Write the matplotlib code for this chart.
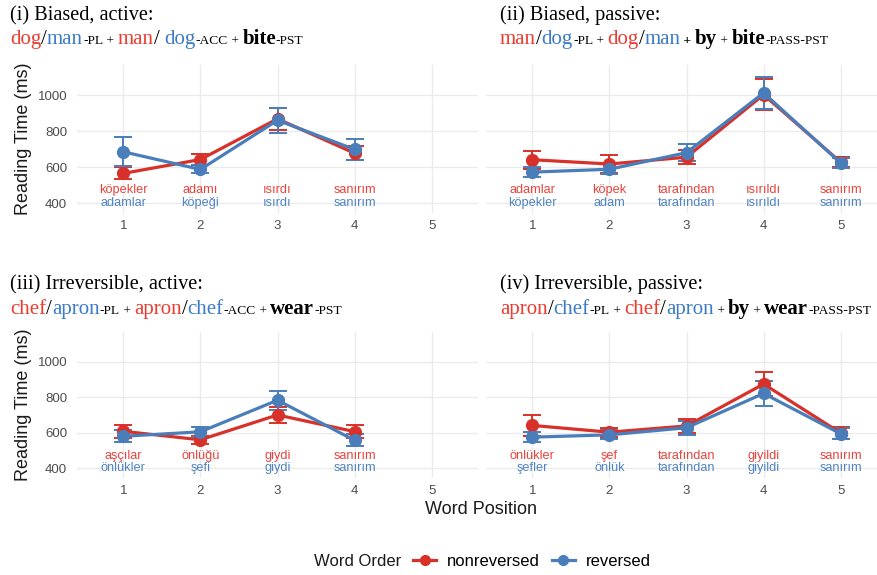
import matplotlib
matplotlib.use("Agg")
import matplotlib.pyplot as plt
from matplotlib.lines import Line2D

W, H = 877, 575

RED = "#D7312A"
BLUE = "#4A7EBB"
RED_TXT = "#E8433C"
BLUE_TXT = "#4F83C4"
T_RED = "#EE3B2F"
T_BLUE = "#3C7BC8"

# reading times (ms) and error bar half-widths per panel
pos_active = [1, 2, 3, 4]
pos_passive = [1, 2, 3, 4, 5]

bias_act_nonrev = [565, 642, 868, 677]
bias_act_nonrev_err = [33, 33, 62, 38]
bias_act_rev = [685, 587, 860, 698]
bias_act_rev_err = [80, 22, 68, 58]

bias_pas_nonrev = [641, 617, 655, 1002, 627]
bias_pas_nonrev_err = [49, 48, 40, 85, 28]
bias_pas_rev = [572, 588, 680, 1012, 622]
bias_pas_rev_err = [27, 29, 46, 87, 28]

irr_act_nonrev = [608, 560, 700, 606]
irr_act_nonrev_err = [36, 24, 45, 37]
irr_act_rev = [580, 605, 783, 557]
irr_act_rev_err = [35, 27, 53, 33]

irr_pas_nonrev = [641, 603, 638, 874, 598]
irr_pas_nonrev_err = [60, 25, 37, 67, 32]
irr_pas_rev = [575, 588, 628, 821, 594]
irr_pas_rev_err = [28, 25, 40, 70, 32]

# Turkish words under each position
bias_act_words_nonrev = ["köpekler", "adamı", "ısırdı", "sanırım"]
bias_act_words_rev = ["adamlar", "köpeği", "ısırdı", "sanırım"]
bias_pas_words_nonrev = ["adamlar", "köpek", "tarafından", "ısırıldı", "sanırım"]
bias_pas_words_rev = ["köpekler", "adam", "tarafından", "ısırıldı", "sanırım"]
irr_act_words_nonrev = ["aşçılar", "önlüğü", "giydi", "sanırım"]
irr_act_words_rev = ["önlükler", "şefi", "giydi", "sanırım"]
irr_pas_words_nonrev = ["önlükler", "şef", "tarafından", "giyildi", "sanırım"]
irr_pas_words_rev = ["şefler", "önlük", "tarafından", "giyildi", "sanırım"]

yticks = [400, 600, 800, 1000]
xticks = [1, 2, 3, 4, 5]

plt.rcParams["font.family"] = ["Liberation Sans", "DejaVu Sans"]

fig = plt.figure(figsize=(W / 100, H / 100), dpi=100)


def add_axes_px(left, top, right, bottom):
    return fig.add_axes([left / W, 1 - bottom / H, (right - left) / W, (bottom - top) / H])


def draw_panel(ax, x, nonrev, nonrev_err, rev, rev_err, words_nonrev, words_rev, show_y):
    ax.set_xlim(0.4, 5.6)
    ax.set_ylim(345, 1167)
    ax.set_xticks(xticks)
    ax.set_yticks(yticks)
    ax.grid(True, color="#EBEBEB", linewidth=1.0)
    ax.set_axisbelow(True)
    for s in ax.spines.values():
        s.set_visible(False)
    ax.tick_params(length=0, labelsize=9.5, labelcolor="#4D4D4D", pad=5)
    ax.tick_params(axis="y", pad=7)
    if show_y:
        ax.set_ylabel("Reading Time (ms)", fontsize=13, color="#1A1A1A", labelpad=4)
    else:
        ax.set_yticklabels([])
    for vals, errs, col in [(nonrev, nonrev_err, RED), (rev, rev_err, BLUE)]:
        ax.errorbar(x, vals, yerr=errs, color=col, linewidth=2.3, marker="o",
                    markersize=8.5, elinewidth=1.4, capsize=6.5, capthick=1.4)
    for xi, w in zip(x, words_nonrev):
        ax.text(xi, 470, w, color=RED_TXT, fontsize=9.2, ha="center", va="center")
    for xi, w in zip(x, words_rev):
        ax.text(xi, 402, w, color=BLUE_TXT, fontsize=9.2, ha="center", va="center")


def rich_text(x_px, y_px, pieces):
    renderer = fig.canvas.get_renderer()
    x = x_px
    for txt, color, size, weight in pieces:
        t = fig.text(x / W, 1 - y_px / H, txt, color=color, fontsize=size,
                     fontweight=weight, family="Liberation Serif",
                     ha="left", va="baseline")
        x += t.get_window_extent(renderer).width


BIG = 15
HEAD = 14.6
SM = 9.7
K = "black"

ax1 = add_axes_px(77, 65, 478, 213)
ax2 = add_axes_px(486, 65, 887, 213)
ax3 = add_axes_px(77, 332, 478, 478)
ax4 = add_axes_px(486, 332, 887, 478)

draw_panel(ax1, pos_active, bias_act_nonrev, bias_act_nonrev_err, bias_act_rev,
           bias_act_rev_err, bias_act_words_nonrev, bias_act_words_rev, True)
draw_panel(ax2, pos_passive, bias_pas_nonrev, bias_pas_nonrev_err, bias_pas_rev,
           bias_pas_rev_err, bias_pas_words_nonrev, bias_pas_words_rev, False)
draw_panel(ax3, pos_active, irr_act_nonrev, irr_act_nonrev_err, irr_act_rev,
           irr_act_rev_err, irr_act_words_nonrev, irr_act_words_rev, True)
draw_panel(ax4, pos_passive, irr_pas_nonrev, irr_pas_nonrev_err, irr_pas_rev,
           irr_pas_rev_err, irr_pas_words_nonrev, irr_pas_words_rev, False)

# panel headings
rich_text(10, 20, [("(i) Biased, active:", K, HEAD, "normal")])
rich_text(10, 44, [("dog", T_RED, BIG, "normal"), ("/", K, BIG, "normal"),
                   ("man", T_BLUE, BIG, "normal"), ("-PL", K, SM, "normal"),
                   (" + ", K, SM, "normal"), ("man", T_RED, BIG, "normal"),
                   ("/ ", K, BIG, "normal"), ("dog", T_BLUE, BIG, "normal"),
                   ("-ACC", K, SM, "normal"), (" + ", K, SM, "normal"),
                   ("bite", K, BIG, "bold"), ("-PST", K, SM, "normal")])

rich_text(500, 20, [("(ii) Biased, passive:", K, HEAD, "normal")])
rich_text(500, 44, [("man", T_RED, BIG, "normal"), ("/", K, BIG, "normal"),
                    ("dog", T_BLUE, BIG, "normal"), ("-PL", K, SM, "normal"),
                    (" + ", K, SM, "normal"), ("dog", T_RED, BIG, "normal"),
                    ("/", K, BIG, "normal"), ("man", T_BLUE, BIG, "normal"),
                    (" + ", K, SM, "bold"), ("by", K, BIG, "bold"),
                    (" + ", K, SM, "normal"), ("bite", K, BIG, "bold"),
                    ("-PASS-PST", K, SM, "normal")])

rich_text(10, 289, [("(iii) Irreversible, active:", K, HEAD, "normal")])
rich_text(10, 314, [("chef", T_RED, BIG, "normal"), ("/", K, BIG, "normal"),
                    ("apron", T_BLUE, BIG, "normal"), ("-PL", K, SM, "normal"),
                    (" + ", K, SM, "normal"), ("apron", T_RED, BIG, "normal"),
                    ("/", K, BIG, "normal"), ("chef", T_BLUE, BIG, "normal"),
                    ("-ACC", K, SM, "normal"), (" + ", K, SM, "normal"),
                    ("wear", K, BIG, "bold"), ("-PST", K, SM, "normal")])

rich_text(500, 289, [("(iv) Irreversible, passive:", K, HEAD, "normal")])
rich_text(500, 314, [("apron", T_RED, BIG, "normal"), ("/", K, BIG, "normal"),
                     ("chef", T_BLUE, BIG, "normal"), ("-PL", K, SM, "normal"),
                     (" + ", K, SM, "normal"), ("chef", T_RED, BIG, "normal"),
                     ("/", K, BIG, "normal"), ("apron", T_BLUE, BIG, "normal"),
                     (" + ", K, SM, "normal"), ("by", K, BIG, "bold"),
                     (" + ", K, SM, "normal"), ("wear", K, BIG, "bold"),
                     ("-PASS-PST", K, SM, "normal")])

fig.text(481 / W, 1 - 510 / H, "Word Position", fontsize=13, color="#1A1A1A",
         ha="center", va="center")

# legend at the bottom
fig.text(358 / W, 1 - 561 / H, "Word Order", fontsize=12, color="#1A1A1A",
         ha="center", va="center")
handles = [Line2D([], [], color=RED, marker="o", linewidth=2.3, markersize=7),
           Line2D([], [], color=BLUE, marker="o", linewidth=2.3, markersize=7)]
fig.legend(handles, ["nonreversed", "reversed"], loc="center",
           bbox_to_anchor=(532 / W, 1 - 561 / H), ncol=2, frameon=False,
           fontsize=12, handlelength=1.35, columnspacing=0.75, handletextpad=0.65)

fig.savefig("out.png", dpi=100)
